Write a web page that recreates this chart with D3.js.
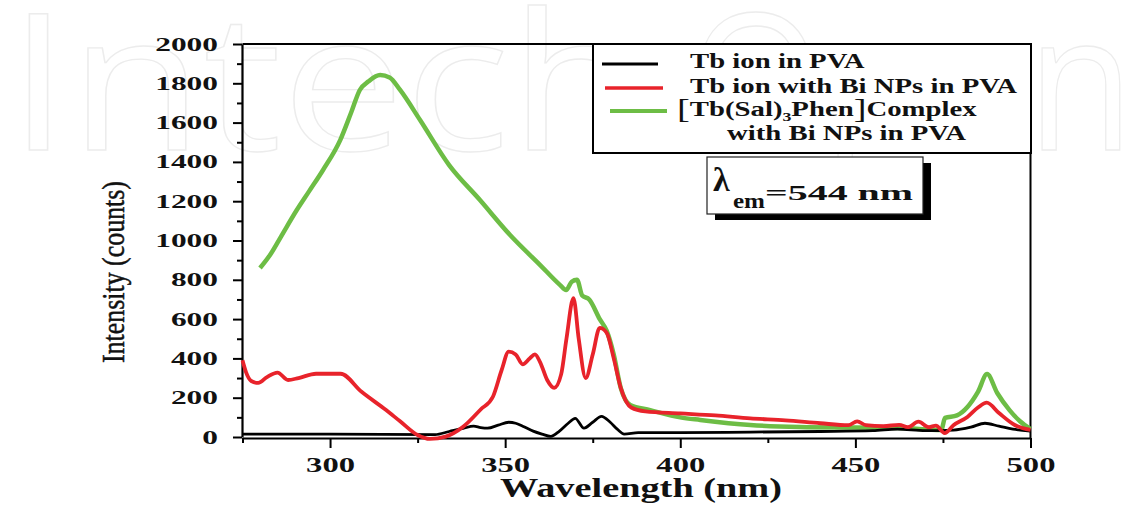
<!DOCTYPE html>
<html>
<head>
<meta charset="utf-8">
<script src="https://cdn.jsdelivr.net/npm/d3@7"></script>
<style>
body { margin: 0; background: #fff; }
svg { display: block; }
</style>
</head>
<body>
<svg width="1138" height="506"></svg>
<script>
// Tb ion in PVA (black)
var tbNm     = [275, 300, 330, 334, 338, 341, 343, 345, 348, 351, 353, 355, 358, 360.5, 363, 365.5, 368, 370, 372.5, 375, 377.5, 380, 382, 384, 388, 400, 420, 440, 455, 462, 470, 478, 483, 487, 491, 495, 500];
var tbCounts = [15, 15, 12, 28, 44, 55, 48, 45, 60, 75, 70, 55, 30, 15, 3, 30, 70, 95, 45, 75, 105, 75, 40, 15, 22, 22, 25, 28, 32, 40, 32, 35, 50, 70, 55, 40, 30];

// Tb ion with Bi NPs in PVA (red)
var tbBiNm     = [275, 276, 277.5, 279.5, 282, 285, 288, 291, 296, 303, 309, 316, 320, 325, 328.5, 333, 338, 343, 346.5, 349, 351, 353, 355, 357, 358.5, 360, 362, 364, 366, 367.5, 369.5, 371, 373, 375, 377, 379, 381, 383, 386, 390, 400, 410, 420, 430, 440, 448, 450.5, 453, 458, 462.5, 465, 468, 471, 473, 475.5, 478, 482, 485, 487.5, 491, 495.5, 500];
var tbBiCounts = [390, 330, 285, 275, 305, 328, 290, 300, 322, 322, 230, 137, 80, 10, -10, 2, 52, 140, 205, 341, 434, 420, 370, 400, 420, 380, 290, 250, 320, 500, 707, 500, 300, 420, 555, 530, 400, 250, 150, 130, 120, 110, 95, 85, 70, 60, 80, 60, 55, 62, 50, 78, 50, 58, 20, 60, 102, 150, 175, 122, 61, 36];

// [Tb(Sal)3Phen] Complex with Bi NPs in PVA (green)
var cxNm     = [280, 283, 286, 290.5, 294, 298, 302.9, 306, 308.5, 311, 314.3, 317, 320, 325.7, 334, 342.8, 351.4, 360, 365.7, 367.4, 369, 370.5, 372, 374, 377, 379, 381, 383, 385.7, 391.4, 400, 405.7, 420, 434, 450, 462.8, 474.5, 475.6, 479, 482, 485, 487.6, 490.5, 494, 497, 500];
var cxCounts = [860, 930, 1020, 1155, 1250, 1359, 1511, 1650, 1766, 1810, 1842, 1830, 1766, 1613, 1384, 1206, 1028, 875, 773, 748, 790, 800, 720, 700, 600, 540, 420, 250, 163, 137, 100, 87, 61, 51, 48, 46, 36, 97, 110, 153, 230, 320, 224, 137, 80, 40];

var xMajor = [300, 350, 400, 450, 500];
var xMinor = [275, 325, 375, 425, 475];
var yMajor = [0, 200, 400, 600, 800, 1000, 1200, 1400, 1600, 1800, 2000];
var yMinor = [100, 300, 500, 700, 900, 1100, 1300, 1500, 1700, 1900];

var serif = "'Liberation Serif', 'Times New Roman', serif";
var svg = d3.select("svg");

// faint watermark behind the chart
var marks = [
    {t: "Intech", x: 8, w: 636},
    {t: "Open", x: 688, w: 446}
];
svg.append("g").selectAll("text")
    .data(marks)
    .enter().append("text")
    .attr("x", function(d) { return d.x; })
    .attr("y", 150)
    .style("font-family", "'Open Sans', sans-serif")
    .attr("font-size", 190)
    .attr("textLength", function(d) { return d.w; })
    .attr("lengthAdjust", "spacingAndGlyphs")
    .attr("fill", "none")
    .attr("stroke", "#ececec")
    .attr("stroke-width", 1.3)
    .text(function(d) { return d.t; });

var x = d3.scaleLinear().domain([275, 500]).range([242.5, 1030.5]);
var y = d3.scaleLinear().domain([0, 2000]).range([437, 44]);

// frame (top + right)
svg.append("path")
    .attr("d", "M" + x(275) + "," + y(2000) + "H" + x(500) + "V438")
    .attr("fill", "none").attr("stroke", "#000").attr("stroke-width", 2);

// x axis
var gx = svg.append("g").attr("transform", "translate(0,438)");
gx.append("g").call(d3.axisBottom(x).tickValues(xMinor).tickSize(5).tickFormat(""))
    .select(".domain").remove();
gx.append("g").attr("class", "xmaj")
    .call(d3.axisBottom(x).tickValues(xMajor).tickSize(10).tickSizeOuter(0).tickFormat(d3.format("d")));
gx.selectAll(".domain").attr("stroke-width", 2.2);
gx.selectAll(".tick line").attr("stroke-width", 2);
gx.selectAll(".xmaj text")
    .attr("y", 34).attr("dy", null)
    .style("font-family", serif)
    .attr("font-weight", "bold")
    .attr("font-size", 22)
    .attr("fill", "#111")
    .attr("lengthAdjust", "spacingAndGlyphs")
    .attr("textLength", function(d) { return String(d).length * 16.3; });

// y axis
var gy = svg.append("g").attr("transform", "translate(242,0)");
gy.append("g").call(d3.axisLeft(y).tickValues(yMinor).tickSize(5).tickFormat(""))
    .select(".domain").remove();
gy.append("g").attr("class", "ymaj")
    .call(d3.axisLeft(y).tickValues(yMajor).tickSize(9).tickSizeOuter(0).tickFormat(d3.format("d")));
gy.selectAll(".domain").attr("stroke-width", 2.2);
gy.selectAll(".tick line").attr("stroke-width", 2);
gy.selectAll(".ymaj text")
    .attr("x", -24).attr("dy", 6)
    .style("font-family", serif)
    .attr("font-weight", "bold")
    .attr("font-size", 18)
    .attr("fill", "#111")
    .attr("lengthAdjust", "spacingAndGlyphs")
    .attr("textLength", function(d) { return String(d).length * 15.7; });

// axis titles
svg.append("text")
    .attr("x", 641).attr("y", 497)
    .attr("text-anchor", "middle")
    .style("font-family", serif)
    .attr("font-weight", "bold")
    .attr("font-size", 28)
    .attr("fill", "#111")
    .attr("textLength", 282)
    .attr("lengthAdjust", "spacingAndGlyphs")
    .text("Wavelength (nm)");

svg.append("text")
    .attr("transform", "translate(124,272) rotate(-90)")
    .attr("text-anchor", "middle")
    .style("font-family", serif)
    .attr("font-size", 32)
    .attr("fill", "#111")
    .attr("stroke", "#111")
    .attr("stroke-width", 0.5)
    .attr("textLength", 182)
    .attr("lengthAdjust", "spacingAndGlyphs")
    .text("Intensity (counts)");

// curves
var line = d3.line()
    .x(function(d) { return x(d[0]); })
    .y(function(d) { return y(d[1]); })
    .curve(d3.curveMonotoneX);

var series = [
    {nm: cxNm, counts: cxCounts, color: "#6dbd45", width: 4.5},
    {nm: tbNm, counts: tbCounts, color: "#000000", width: 2.8},
    {nm: tbBiNm, counts: tbBiCounts, color: "#e8232b", width: 3.8}
];

svg.append("g").selectAll("path")
    .data(series)
    .enter().append("path")
    .attr("fill", "none")
    .attr("stroke", function(d) { return d.color; })
    .attr("stroke-width", function(d) { return d.width; })
    .attr("stroke-linejoin", "round")
    .attr("d", function(d) { return line(d.nm.map(function(v, i) { return [v, d.counts[i]]; })); });

// legend box
var lg = svg.append("g");
lg.append("rect")
    .attr("x", 593).attr("y", 44).attr("width", 438).attr("height", 109)
    .attr("fill", "#fff").attr("stroke", "#000").attr("stroke-width", 2);

var legendLines = [
    {x1: 602, x2: 658, y: 64, color: "#000", w: 3},
    {x1: 605, x2: 663, y: 88, color: "#e8232b", w: 3.5},
    {x1: 610, x2: 667, y: 111, color: "#6dbd45", w: 4}
];
lg.selectAll("line.key").data(legendLines).enter().append("line")
    .attr("x1", function(d) { return d.x1; })
    .attr("x2", function(d) { return d.x2; })
    .attr("y1", function(d) { return d.y; })
    .attr("y2", function(d) { return d.y; })
    .attr("stroke", function(d) { return d.color; })
    .attr("stroke-width", function(d) { return d.w; });

function legendText(tx, ty) {
    return lg.append("text")
        .attr("transform", "translate(" + tx + "," + ty + ") scale(1.37,1)")
        .style("font-family", serif)
        .attr("font-weight", "bold")
        .attr("font-size", 21)
        .attr("fill", "#111");
}
legendText(690, 68).text("Tb ion in PVA");
legendText(690, 93).text("Tb ion with Bi NPs in PVA");
var t3 = legendText(677, 116);
t3.append("tspan").attr("font-size", 28).attr("font-weight", "normal").attr("dy", 2).text("[");
t3.append("tspan").attr("dy", -2).text("Tb(Sal)");
t3.append("tspan").attr("font-size", 13).attr("dy", 5).text("3");
t3.append("tspan").attr("dy", -5).text("Phen");
t3.append("tspan").attr("font-size", 28).attr("font-weight", "normal").attr("dy", 2).text("]");
t3.append("tspan").attr("dy", -2).text("Complex");
legendText(727, 140).text("with Bi NPs in PVA");

// lambda box with shadow
var lb = svg.append("g").style("font-family", serif);
lb.append("rect").attr("x", 715).attr("y", 163).attr("width", 216).attr("height", 57).attr("fill", "#000");
lb.append("rect").attr("x", 707).attr("y", 157).attr("width", 216).attr("height", 57)
    .attr("fill", "#fff").attr("stroke", "#222").attr("stroke-width", 1.2);
lb.append("text").attr("x", 713).attr("y", 191)
    .attr("font-size", 34).attr("font-weight", "bold").attr("fill", "#111").text("λ");
lb.append("text").attr("x", 733).attr("y", 208)
    .attr("font-size", 22).attr("font-weight", "bold").attr("fill", "#111")
    .attr("textLength", 32).attr("lengthAdjust", "spacingAndGlyphs").text("em");
lb.append("text").attr("x", 765).attr("y", 200)
    .attr("font-size", 20).attr("font-weight", "bold").attr("fill", "#111")
    .attr("textLength", 148).attr("lengthAdjust", "spacingAndGlyphs").text("=544 nm");
</script>
</body>
</html>
